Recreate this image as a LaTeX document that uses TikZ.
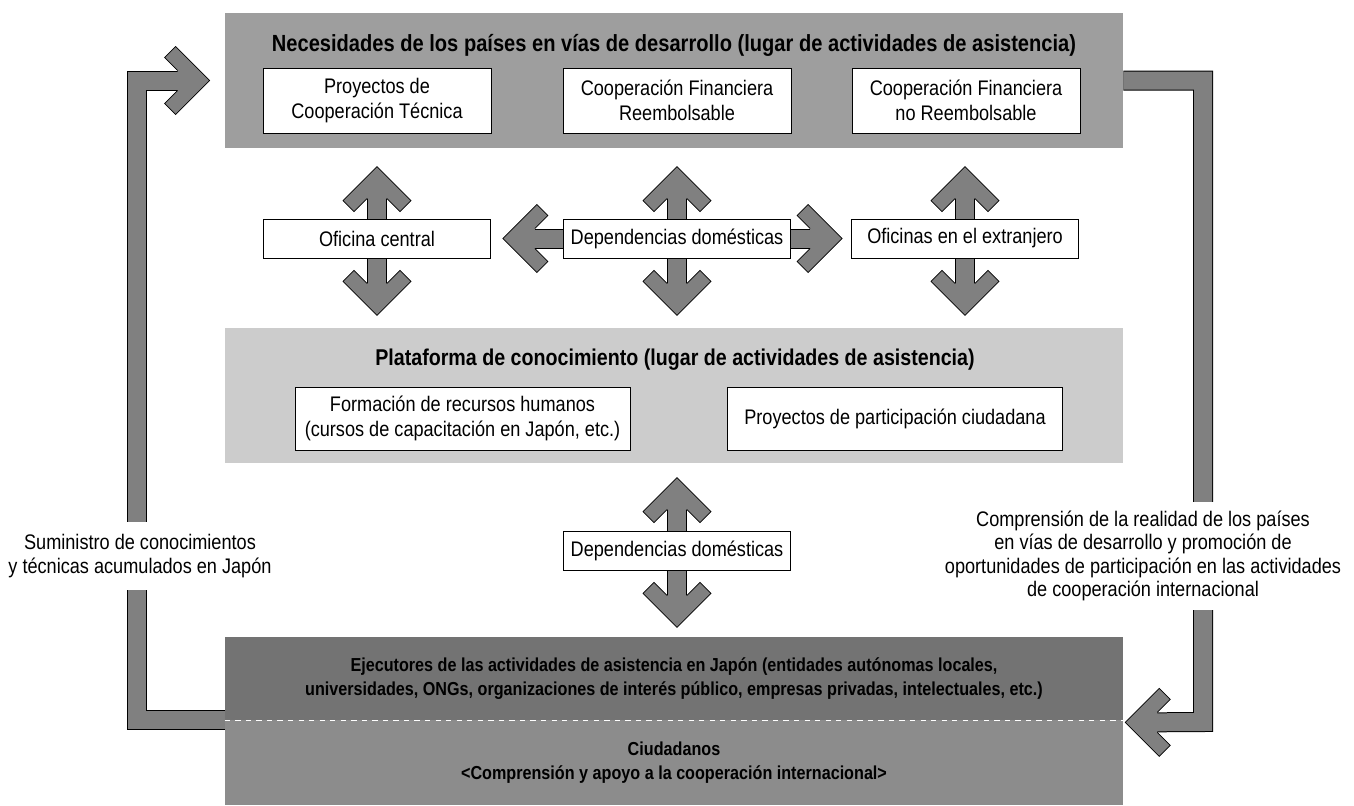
\documentclass[tikz,border=0pt]{standalone}
\usepackage{fontspec}
\setmainfont{Liberation Sans}[FakeStretch=0.86]
\usetikzlibrary{calc,backgrounds}

\definecolor{needgray}{gray}{0.62}
\definecolor{platgray}{gray}{0.80}
\definecolor{execgray}{gray}{0.45}
\definecolor{citgray}{gray}{0.55}
\definecolor{arrowgray}{gray}{0.50}

\newcommand\shaft[1]{\draw[shaftline] #1; \draw[shaftfill] #1;}

\begin{document}
\begin{tikzpicture}[x=0.02cm, y=-0.02cm]
  \tikzset{
    panel/.style={draw=none, inner sep=0pt, minimum width=17.96cm},
    box/.style={draw, thin, fill=white, inner sep=0pt, align=center, font=\fontsize{12}{14}\selectfont},
    paneltitle/.style={font=\bfseries\fontsize{13.3}{15}\selectfont},
    sidetext/.style={fill=white, align=center, inner sep=0pt, font=\fontsize{12}{13.4}\selectfont},
    darktext/.style={align=center, font=\bfseries\fontsize{10.7}{14}\selectfont},
    shaftline/.style={line width=0.4cm, line join=miter},
    shaftfill/.style={line width=0.36cm, draw=arrowgray, line join=miter},
    chevron/.pic={
      \fill[arrowgray] (0,0) -- (-34,34) -- (-45,23) -- (-32,10) -- (-32,-10) -- (-45,-23) -- (-34,-34) -- cycle;
      \draw[line join=miter] (-32,10) -- (-45,23) -- (-34,34) -- (0,0) -- (-34,-34) -- (-45,-23) -- (-32,-10);
    }
  }
  \useasboundingbox (0,0) rectangle (1354,805);

  % Panels
  \node[panel, fill=needgray, minimum height=2.7cm] (need) at (674,80.5) {};
  \node[paneltitle] (needtitle) at (674,45) {Necesidades de los países en vías de desarrollo (lugar de actividades de asistencia)};
  \node[panel, fill=platgray, minimum height=2.7cm] (platform) at (674,395.5) {};
  \node[paneltitle, font=\bfseries\fontsize{13}{15}\selectfont] (plattitle) at (675,360) {Plataforma de conocimiento (lugar de actividades de asistencia)};
  \node[panel, fill=execgray, minimum height=1.66cm, darktext] (ejecutores) at (674,678.5)
    {Ejecutores de las actividades de asistencia en Japón (entidades autónomas locales,\\universidades, ONGs, organizaciones de interés público, empresas privadas, intelectuales, etc.)};
  \node[panel, fill=citgray, minimum height=1.7cm, darktext] (ciudadanos) at (674,762.5)
    {Ciudadanos\\<Comprensión y apoyo a la cooperación internacional>};
  \draw[white, dashed, line width=0.6pt] (ejecutores.south west) -- (ejecutores.south east);

  % Boxes in the top panel
  \node[box, minimum width=4.56cm, minimum height=1.3cm] (tec) at (377,100.5) {Proyectos de\\Cooperación Técnica};
  \node[box, minimum width=4.56cm, minimum height=1.3cm] (reemb) at (677,100.5) {Cooperación Financiera\\Reembolsable};
  \node[box, minimum width=4.56cm, minimum height=1.3cm] (noreemb) at (966,100.5) {Cooperación Financiera\\no Reembolsable};

  % Offices
  \node[box, minimum width=4.54cm, minimum height=0.78cm] (central) at (377,238.5) {Oficina central};
  \node[box, minimum width=4.54cm, minimum height=0.78cm] (domA) at (677,238.5) {Dependencias domésticas};
  \node[box, minimum width=4.54cm, minimum height=0.78cm] (extranjero) at (965,238.5) {Oficinas en el extranjero};

  % Boxes in the platform
  \node[box, minimum width=6.7cm, minimum height=1.26cm] (formacion) at (462.5,418.5) {Formación de recursos humanos\\(cursos de capacitación en Japón, etc.)};
  \node[box, minimum width=6.7cm, minimum height=1.26cm] (ciudadana) at (895,418.5) {Proyectos de participación ciudadana};

  \node[box, minimum width=4.54cm, minimum height=0.78cm] (domB) at (677,550.5) {Dependencias domésticas};

  % Side texts
  \node[sidetext, minimum height=1.36cm] (suministro) at (140,556) {Suministro de conocimientos\\y técnicas acumulados en Japón};
  \node[sidetext, minimum height=2.16cm] (comprension) at (1143,556) {Comprensión de la realidad de los países\\en vías de desarrollo y promoción de\\oportunidades de participación en las actividades\\de cooperación internacional};

  % Arrows
  \begin{scope}[on background layer]
    \coordinate (supin) at ($(need.west)+(-15,0)$);
    \coordinate (comin) at ($(ejecutores.south east)+(2,2)$);
    \shaft{(ejecutores.south west) -| (136.5,80.5) -- ($(supin)+(-25,0)$)}
    \pic at (supin) {chevron};
    \shaft{(need.east) -| (1203,722) -- ($(comin)+(25,0)$)}
    \pic[rotate=180] at (comin) {chevron};

    \foreach \b in {central,domA,extranjero} {
      \shaft{($(\b.north)+(0,-27)$) -- ($(\b.south)+(0,32)$)}
      \pic[rotate=90] at ($(\b.north)+(0,-52)$) {chevron};
      \pic[rotate=-90] at ($(\b.south)+(0,57)$) {chevron};
    }

    \shaft{(domA.west) -- ($(central.east)+(37,0)$)}
    \pic[rotate=180] at ($(central.east)+(12,0)$) {chevron};
    \shaft{(domA.east) -- ($(extranjero.west)+(-34,0)$)}
    \pic at ($(extranjero.west)+(-9,0)$) {chevron};

    \shaft{($(domB.north)+(0,-28)$) -- ($(domB.south)+(0,32)$)}
    \pic[rotate=90] at ($(domB.north)+(0,-53)$) {chevron};
    \pic[rotate=-90] at ($(domB.south)+(0,57)$) {chevron};
  \end{scope}
\end{tikzpicture}
\end{document}
